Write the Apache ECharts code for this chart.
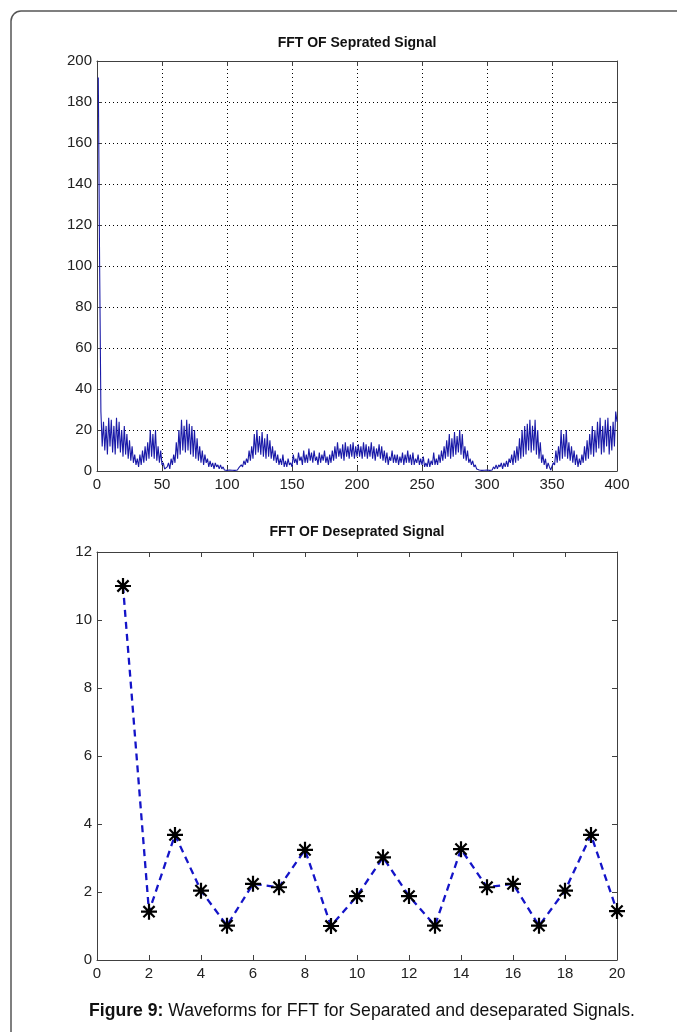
<!DOCTYPE html>
<html>
<head>
<meta charset="utf-8">
<script src="https://cdn.jsdelivr.net/npm/echarts@6/dist/echarts.min.js"></script>
<style>
html,body{margin:0;padding:0;background:#fff;}
#chart{width:677px;height:1032px;}
</style>
</head>
<body>
<div id="chart"></div>
<script>
// ---- Data ----
var topTitle = 'FFT OF Seprated Signal';
var bottomTitle = 'FFT OF Deseprated Signal';
var captionBold = 'Figure 9:';
var captionText = ' Waveforms for FFT for Separated and deseparated Signals.';

var topXTicks = [0, 50, 100, 150, 200, 250, 300, 350, 400];
var topYTicks = [0, 20, 40, 60, 80, 100, 120, 140, 160, 180, 200];
var bottomXTicks = [0, 2, 4, 6, 8, 10, 12, 14, 16, 18, 20];
var bottomYTicks = [0, 2, 4, 6, 8, 10, 12];

// magnitude of FFT of separated signal, samples 1..400
var sepValues = [
  192, 102, 29, 12, 24, 10, 22, 8, 26, 12,
  25, 9, 22, 8, 26, 11, 24, 9, 20, 7,
  22, 8, 18, 6, 15, 5, 12, 4, 8, 3,
  6, 2, 8, 3, 10, 4, 12, 5, 14, 6,
  20, 7, 18, 6, 20, 5, 12, 4, 10, 3,
  4, 1, 0.5, 2, 4, 1, 6, 3, 8, 4,
  14, 6, 20, 8, 25, 10, 22, 9, 25, 10,
  23, 8, 22, 7, 20, 6, 16, 5, 12, 4,
  10, 3, 8, 4, 6, 2, 5, 2, 4, 1,
  4, 2, 3, 1, 3, 1, 2, 0.5, 1, 0.3,
  0.2, 0.5, 0.3, 0.4, 0.6, 0.3, 1, 0.5, 1.5, 1,
  3, 2, 5, 3, 6, 4, 10, 5, 12, 6,
  18, 8, 20, 9, 17, 8, 19, 7, 16, 6,
  18, 7, 15, 6, 12, 5, 10, 4, 8, 3,
  6, 3, 8, 2, 5, 2, 6, 3, 4, 2,
  8, 4, 6, 3, 9, 5, 7, 3, 10, 4,
  8, 4, 11, 5, 9, 4, 10, 5, 7, 3,
  9, 4, 8, 5, 10, 4, 7, 3, 8, 4,
  10, 5, 12, 6, 14, 7, 11, 6, 13, 5,
  14, 7, 12, 6, 13, 7, 14, 6, 12, 7,
  13, 7, 12, 6, 14, 7, 13, 6, 12, 7,
  14, 6, 12, 5, 11, 7, 13, 6, 12, 5,
  10, 4, 9, 3, 7, 5, 10, 4, 8, 4,
  8, 3, 7, 4, 9, 3, 8, 4, 10, 4,
  8, 3, 9, 3, 6, 4, 8, 3, 6, 3,
  7, 2, 4, 2, 6, 2, 5, 3, 9, 3,
  6, 3, 8, 4, 10, 5, 12, 6, 15, 7,
  18, 6, 16, 7, 19, 8, 17, 9, 20, 8,
  18, 6, 12, 5, 10, 4, 6, 3, 5, 2,
  3, 1, 1.5, 0.5, 1, 0.3, 0.6, 0.4, 0.3, 0.5,
  0.2, 0.3, 1, 0.5, 2, 1, 3, 1, 3, 2,
  4, 1, 4, 2, 5, 2, 6, 4, 8, 3,
  10, 4, 12, 5, 16, 6, 20, 7, 22, 8,
  23, 10, 25, 9, 22, 10, 25, 8, 20, 6,
  14, 4, 8, 3, 6, 1, 4, 2, 0.5, 1,
  4, 3, 10, 4, 12, 5, 20, 6, 18, 7,
  20, 6, 14, 5, 12, 4, 10, 3, 8, 2,
  6, 3, 8, 4, 12, 5, 15, 6, 18, 8,
  22, 7, 20, 9, 24, 11, 26, 8, 22, 9,
  25, 12, 26, 8, 22, 10, 24, 12, 29, 24
];

// FFT of deseparated signal, samples 1..20
var desepX = [1, 2, 3, 4, 5, 6, 7, 8, 9, 10, 11, 12, 13, 14, 15, 16, 17, 18, 19, 20];
var desepValues = [11.0, 1.42, 3.68, 2.04, 1.01, 2.24, 2.14, 3.24, 1.0, 1.88, 3.02, 1.88, 1.01, 3.26, 2.14, 2.24, 1.01, 2.04, 3.68, 1.44];

// ---- Chart ----
var FONT = "'Liberation Sans', Arial, sans-serif";
var AXIS_COLOR = '#404040';
var LABEL_COLOR = '#222';

var sepData = sepValues.map(function (v, i) { return [i + 1, v]; });
var desepData = desepX.map(function (x, i) { return [x, desepValues[i]]; });

function xAx(gridIndex, min, max, interval, pos, showLabel, grid) {
  return {
    type: 'value', gridIndex: gridIndex, min: min, max: max, interval: interval, position: pos,
    axisLine: { show: true, onZero: false, lineStyle: { color: AXIS_COLOR, width: 1 } },
    axisTick: { show: true, inside: true, length: 5, lineStyle: { color: AXIS_COLOR } },
    axisLabel: { show: showLabel, color: LABEL_COLOR, fontFamily: FONT, fontSize: 15, margin: 6 },
    splitLine: { show: grid, lineStyle: { color: '#000', type: [1, 3], width: 1 } }
  };
}
function yAx(gridIndex, min, max, interval, pos, showLabel, grid) {
  return {
    type: 'value', gridIndex: gridIndex, min: min, max: max, interval: interval, position: pos,
    axisLine: { show: true, onZero: false, lineStyle: { color: AXIS_COLOR, width: 1 } },
    axisTick: { show: true, inside: true, length: 5, lineStyle: { color: AXIS_COLOR } },
    axisLabel: { show: showLabel, color: LABEL_COLOR, fontFamily: FONT, fontSize: 15, margin: 5 },
    splitLine: { show: grid, lineStyle: { color: '#000', type: [1, 3], width: 1 } }
  };
}

var chart = echarts.init(document.getElementById('chart'), null, { renderer: 'canvas' });
var starPath = 'path://M10,0L10,20M0,10L20,10M3,3L17,17M3,17L17,3';

var option = {
  animation: false,
  backgroundColor: '#fff',
  grid: [
    { left: 97, top: 61, width: 520, height: 410 },
    { left: 97, top: 552, width: 520, height: 408 }
  ],
  xAxis: [
    xAx(0, topXTicks[0], topXTicks[topXTicks.length - 1], topXTicks[1] - topXTicks[0], 'bottom', true, true),
    xAx(0, topXTicks[0], topXTicks[topXTicks.length - 1], topXTicks[1] - topXTicks[0], 'top', false, false),
    xAx(1, bottomXTicks[0], bottomXTicks[bottomXTicks.length - 1], bottomXTicks[1] - bottomXTicks[0], 'bottom', true, false),
    xAx(1, bottomXTicks[0], bottomXTicks[bottomXTicks.length - 1], bottomXTicks[1] - bottomXTicks[0], 'top', false, false)
  ],
  yAxis: [
    yAx(0, topYTicks[0], topYTicks[topYTicks.length - 1], topYTicks[1] - topYTicks[0], 'left', true, true),
    yAx(0, topYTicks[0], topYTicks[topYTicks.length - 1], topYTicks[1] - topYTicks[0], 'right', false, false),
    yAx(1, bottomYTicks[0], bottomYTicks[bottomYTicks.length - 1], bottomYTicks[1] - bottomYTicks[0], 'left', true, false),
    yAx(1, bottomYTicks[0], bottomYTicks[bottomYTicks.length - 1], bottomYTicks[1] - bottomYTicks[0], 'right', false, false)
  ],
  series: [
    {
      type: 'line', xAxisIndex: 0, yAxisIndex: 0, data: sepData,
      showSymbol: false, symbol: 'none',
      lineStyle: { color: '#1a1aa8', width: 1.1 },
      z: 3
    },
    {
      type: 'line', xAxisIndex: 2, yAxisIndex: 2, data: desepData,
      symbol: starPath, symbolSize: 16, showSymbol: true,
      lineStyle: { color: '#1414c8', width: 2.3, type: [7, 5] },
      itemStyle: { color: 'rgba(0,0,0,0)', borderColor: '#000', borderWidth: 2.2 },
      z: 3
    }
  ],
  graphic: [
    {
      type: 'rect', shape: { x: 11, y: 11, width: 720, height: 1080, r: 10 },
      style: { fill: 'none', stroke: '#555', lineWidth: 1.5 }, silent: true, z: -1
    },
    {
      type: 'text', x: 357, y: 43,
      style: { text: topTitle, fontFamily: FONT, fontSize: 14, fontWeight: 'bold', fill: '#111', textAlign: 'center', textVerticalAlign: 'middle' }
    },
    {
      type: 'text', x: 357, y: 532,
      style: { text: bottomTitle, fontFamily: FONT, fontSize: 14, fontWeight: 'bold', fill: '#111', textAlign: 'center', textVerticalAlign: 'middle' }
    },
    {
      type: 'text', x: 362, y: 1011,
      style: {
        text: '{b|' + captionBold + '}{n|' + captionText + '}',
        textAlign: 'center', textVerticalAlign: 'middle',
        rich: {
          b: { fontFamily: FONT, fontSize: 17.6, fontWeight: 'bold', fill: '#111', color: '#111' },
          n: { fontFamily: FONT, fontSize: 17.6, fill: '#111', color: '#111' }
        }
      }
    }
  ]
};
chart.setOption(option);
</script>
</body>
</html>
